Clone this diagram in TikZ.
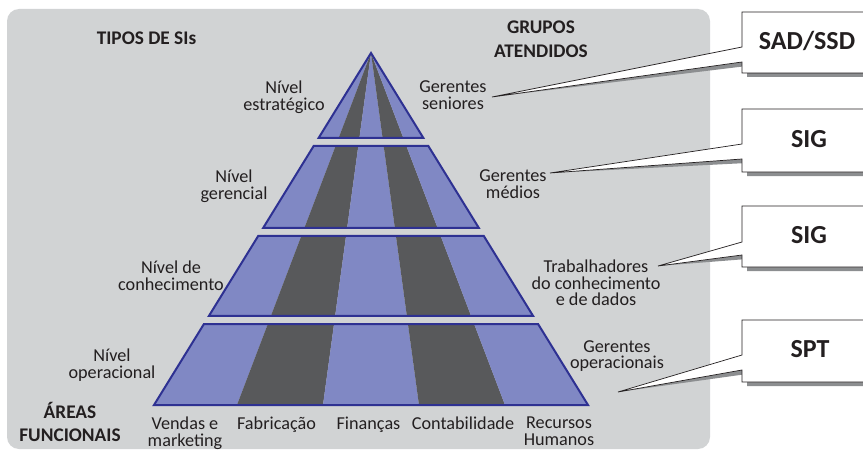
\documentclass[tikz,border=0pt]{standalone}
\usepackage{fontspec}
\setmainfont{Carlito}
\usetikzlibrary{calc}
\definecolor{bggray}{HTML}{D1D3D4}
\definecolor{stripeblue}{HTML}{8088C4}
\definecolor{stripedark}{HTML}{58595B}
\definecolor{edgeblue}{HTML}{2E3192}
\definecolor{txt}{HTML}{231F20}
\definecolor{shadowgray}{HTML}{8C8E90}
\begin{document}
\begin{tikzpicture}[x=1pt,y=-1pt,
  lbl/.style={font=\fontsize{18.2}{16.6}\selectfont, text=txt, align=center, inner sep=0pt},
  head/.style={font=\bfseries\fontsize{19.3}{23.5}\selectfont, text=txt, align=center, inner sep=0pt},
  boxtxt/.style={font=\bfseries\fontsize{26}{30}\selectfont, text=txt, inner sep=0pt, anchor=base},
  tieredge/.style={draw=edgeblue, line width=2pt, line join=miter},
  callout/.style={fill=white, draw=txt, line width=0.7pt, line join=miter},
  calloutshadow/.style={fill=shadowgray}]
\clip (0,0) rectangle (863,452);
\fill[bggray, rounded corners=12pt] (7,9) rectangle (710,449);

% pyramid geometry
\coordinate (A) at (371,53);
\coordinate (B0) at (154,405);
\coordinate (B1) at (237,405);
\coordinate (B2) at (323,405);
\coordinate (B3) at (419,405);
\coordinate (B4) at (505,405);
\coordinate (B5) at (588,405);

\foreach \yt/\yb in {53/138,146/228,236/316,324/405} {
  \pgfmathsetmacro\tTop{(\yt-53)/352}
  \pgfmathsetmacro\tBot{(\yb-53)/352}
  \begin{scope}
    \clip ($(A)!\tTop!(B0)+(-0.01,0)$) -- ($(A)!\tTop!(B5)+(0.01,0)$) -- ($(A)!\tBot!(B5)$) -- ($(A)!\tBot!(B0)$) -- cycle;
    \fill[stripeblue] (A) -- (B0) -- (B1) -- cycle;
    \fill[stripedark] (A) -- (B1) -- (B2) -- cycle;
    \fill[stripeblue] (A) -- (B2) -- (B3) -- cycle;
    \fill[stripedark] (A) -- (B3) -- (B4) -- cycle;
    \fill[stripeblue] (A) -- (B4) -- (B5) -- cycle;
  \end{scope}
}
\draw[tieredge] (A) -- ($(A)!{85/352}!(B5)$) -- ($(A)!{85/352}!(B0)$) -- cycle;
\foreach \yt/\yb in {146/228,236/316,324/405} {
  \pgfmathsetmacro\tTop{(\yt-53)/352}
  \pgfmathsetmacro\tBot{(\yb-53)/352}
  \draw[tieredge] ($(A)!\tTop!(B0)$) -- ($(A)!\tTop!(B5)$) -- ($(A)!\tBot!(B5)$) -- ($(A)!\tBot!(B0)$) -- cycle;
}

% headings
\node[head, anchor=base] (tipos) at (146.5,45) {TIPOS DE SIs};
\node[head] (grupos) at (541,39) {GRUPOS\\ATENDIDOS};
\node[head] (areas) at (70,422) {ÁREAS\\FUNCIONAIS};

% levels
\node[lbl] (estr) at (284,97) {Nível\\estratégico};
\node[lbl] (ger) at (234,186) {Nível\\gerencial};
\node[lbl] (conh) at (171,276) {Nível de\\conhecimento};
\node[lbl] (oper) at (112,365) {Nível\\operacional};

% functional areas
\node[lbl] (vendas) at (185,433) {Vendas e\\marketing};
\node[lbl, anchor=base] (fab) at (276.5,429) {Fabricação};
\node[lbl, anchor=base] (fin) at (368.5,429) {Finanças};
\node[lbl, anchor=base] (cont) at (463,429) {Contabilidade};
\node[lbl] (rh) at (559,431) {Recursos\\Humanos};

% groups
\node[lbl] (gsen) at (453,95) {Gerentes\\seniores};
\node[lbl] (gmed) at (513,184) {Gerentes\\médios};
\node[lbl] (trab) at (596,283) {Trabalhadores\\do conhecimento\\e de dados};
\node[lbl] (gop) at (617,356) {Gerentes\\operacionais};

% callouts
\foreach \ytop/\ybot/\wa/\wb/\tx/\ty in {12/73/47/62/492/97, 109/172/144/159/550/173, 206/267/242/255/658/266, 320/382/355/370/618/392} {
  \coordinate (tip) at (\tx,\ty);
  \fill[calloutshadow, shift={(5,4)}] (742,\ytop) -- (900,\ytop) -- (900,\ybot) -- (742,\ybot) -- (742,\wb) -- (tip) -- (742,\wa) -- cycle;
  \path[callout] (742,\ytop) -- (900,\ytop) -- (900,\ybot) -- (742,\ybot) -- (742,\wb) -- (tip) -- (742,\wa) -- cycle;
}
\node[boxtxt] (sad) at (807,50) {SAD/SSD};
\node[boxtxt] (sig1) at (809,147) {SIG};
\node[boxtxt] (sig2) at (809,243) {SIG};
\node[boxtxt] (spt) at (810,357) {SPT};
\end{tikzpicture}
\end{document}
